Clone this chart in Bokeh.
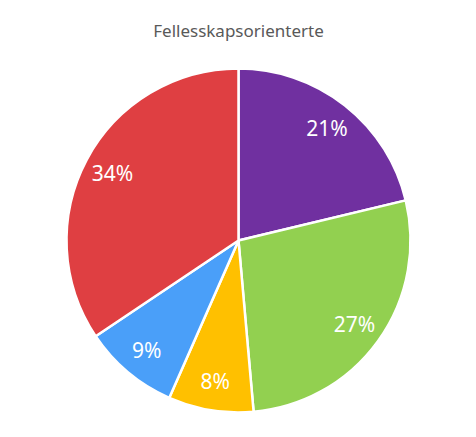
import math
from bokeh.plotting import figure
from bokeh.models import ColumnDataSource, Range1d
from bokeh.core.properties import value
from bokeh.embed import file_html
from bokeh.resources import INLINE

title_text = "Fellesskapsorienterte"
shares = [21.25, 27.35, 8.0, 9.0, 34.4]
labels = ["21%", "27%", "8%", "9%", "34%"]
colors = ["#7030A0", "#92D050", "#FFC000", "#4A9FF9", "#DF3F42"]

W, H = 460, 421
cx, cy, R = 238, H - 240, 172

total = sum(shares)
starts, ends, lx, ly = [], [], [], []
cum = 0.0
for s in shares:
    a0 = math.pi / 2 - 2 * math.pi * cum / total
    cum += s
    a1 = math.pi / 2 - 2 * math.pi * cum / total
    starts.append(a0)
    ends.append(a1)
    mid = (a0 + a1) / 2
    lx.append(cx + 0.83 * R * math.cos(mid))
    ly.append(cy + 0.83 * R * math.sin(mid))

src = ColumnDataSource(dict(start=starts, end=ends, color=colors,
                            lx=lx, ly=ly, label=labels))

p = figure(width=W, height=H, output_backend="svg", toolbar_location=None,
           x_range=Range1d(0, W), y_range=Range1d(0, H), min_border=0)
p.axis.visible = False
p.grid.visible = False
p.outline_line_color = None
p.background_fill_color = "white"
p.border_fill_color = "white"

p.wedge(x=cx, y=cy, radius=R, start_angle="start", end_angle="end",
        direction="clock", fill_color="color", line_color="white",
        line_width=2.5, source=src)
p.text(x="lx", y="ly", text="label", source=src, text_color="white",
       text_font=value("Noto Sans"), text_font_size="21px",
       text_align="center", text_baseline="middle")
p.text(x=[238], y=[H - 30], text=[title_text], text_color="#595959",
       text_font=value("Noto Sans"), text_font_size="17px",
       text_align="center", text_baseline="middle")

open("out.html", "w").write(file_html(p, INLINE))
